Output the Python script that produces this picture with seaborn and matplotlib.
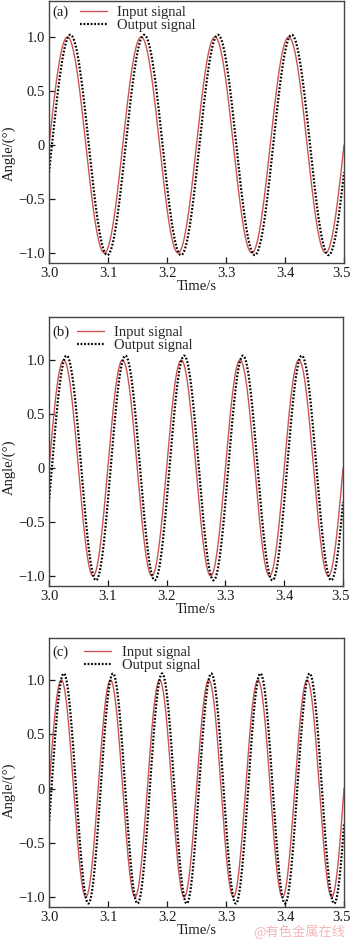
import numpy as np
import pandas as pd
import matplotlib
matplotlib.use("Agg")
import matplotlib.pyplot as plt
import matplotlib.transforms as mtransforms
import seaborn as sns

# ---- data ----
panel_labels = ["(a)", "(b)", "(c)"]
freq_hz = [8.0, 10.0, 12.0]            # input sine frequency per panel
input_amp = [1.00, 1.00, 1.00]          # input amplitude (deg)
output_amp = [1.02, 1.04, 1.06]         # output amplitude (deg)
output_lag = [0.0050, 0.0049, 0.0042]   # output delay (s)
x_ticks = [3.0, 3.1, 3.2, 3.3, 3.4, 3.5]
x_ticklabels = ["3.0", "3.1", "3.2", "3.3", "3.4", "3.5"]
y_ticks = [-1.0, -0.5, 0.0, 0.5, 1.0]
y_ticklabels = ["\u22121.0", "\u22120.5", "0", "0.5", "1.0"]
series_names = ["Input signal", "Output signal"]

sns.set_theme(style="ticks")
plt.rcParams["font.family"] = ["Liberation Serif", "DejaVu Serif"]

FS = 10.5
fig = plt.figure(figsize=(3.5, 9.42), dpi=100)
H = 942.0
W = 350.0
# axes boxes in pixels: (left, top, right, bottom)
boxes = [(49, 1, 344, 263), (49, 317, 343, 586), (49, 638, 344, 907)]
ylims = [(-1.093, 1.333), (-1.093, 1.398), (-1.092, 1.387)]
label_y = [0.42, 0.44, 0.435]
leg_x = [0.105, 0.095, 0.12]
tag_off = [11, 15, 14]

t = np.linspace(3.0, 3.5, 2001)
red = "#cc5555"

for i in range(3):
    l, tp, r, b = boxes[i]
    ax = fig.add_axes([l / W, 1 - b / H, (r - l) / W, (b - tp) / H])
    f = freq_hz[i]
    yin = input_amp[i] * np.sin(2 * np.pi * f * t)
    yout = output_amp[i] * np.sin(2 * np.pi * f * (t - output_lag[i]))
    df = pd.DataFrame({
        "t": np.concatenate([t, t]),
        "y": np.concatenate([yin, yout]),
        "s": [series_names[0]] * len(t) + [series_names[1]] * len(t),
    })
    sns.lineplot(data=df, x="t", y="y", hue="s", style="s",
                 palette={series_names[0]: red, series_names[1]: "black"},
                 dashes={series_names[0]: "", series_names[1]: (1, 1)},
                 ax=ax, legend=False, estimator=None, sort=False)
    lines = ax.get_lines()
    lines[0].set_linewidth(1.0)
    lines[1].set_linewidth(1.6)
    lines[1].set_linestyle((0, (0.8, 0.8)))
    ax.set_xlim(3.0, 3.5)
    ax.set_ylim(*ylims[i])
    ax.set_xticks(x_ticks)
    ax.set_xticklabels(x_ticklabels)
    ax.set_yticks(y_ticks)
    ax.set_yticklabels(y_ticklabels)
    ax.tick_params(direction="in", length=4, width=0.9, labelsize=FS,
                   colors="#1a1a1a", pad=3, top=False, right=False)
    ax.tick_params(axis="x", pad=3)
    last = ax.get_xticklabels()[-1]
    last.set_transform(last.get_transform() +
                       mtransforms.ScaledTranslation(-2.5 / 100, 0, fig.dpi_scale_trans))
    for sp in ax.spines.values():
        sp.set_visible(True)
        sp.set_color("#444444")
        sp.set_linewidth(1.0)
    ax.set_xlabel("Time/s", fontsize=FS, color="#1a1a1a", labelpad=0)
    ax.set_ylabel("Angle/(\u00b0)", fontsize=FS, color="#1a1a1a")
    ax.yaxis.set_label_coords(-0.112, label_y[i])
    ax.legend(handles=lines, labels=series_names, loc="upper left",
              bbox_to_anchor=(leg_x[i], 1 - (tag_off[i] - 6) / (b - tp)),
              frameon=False, fontsize=FS, handlelength=1.85, handletextpad=0.7,
              labelspacing=0.0, borderpad=0, borderaxespad=0)
    ax.text(0.01, 1 - tag_off[i] / (b - tp), panel_labels[i], transform=ax.transAxes,
            fontsize=FS, va="center", ha="left", color="#1a1a1a")

fig.text(253 / W, 1 - 932 / H, "@有色金属在线", fontsize=9.5, color="#f2b8b8",
         va="center", ha="left", family=["Noto Sans CJK SC", "DejaVu Sans"])

fig.savefig("out.png", dpi=100)
